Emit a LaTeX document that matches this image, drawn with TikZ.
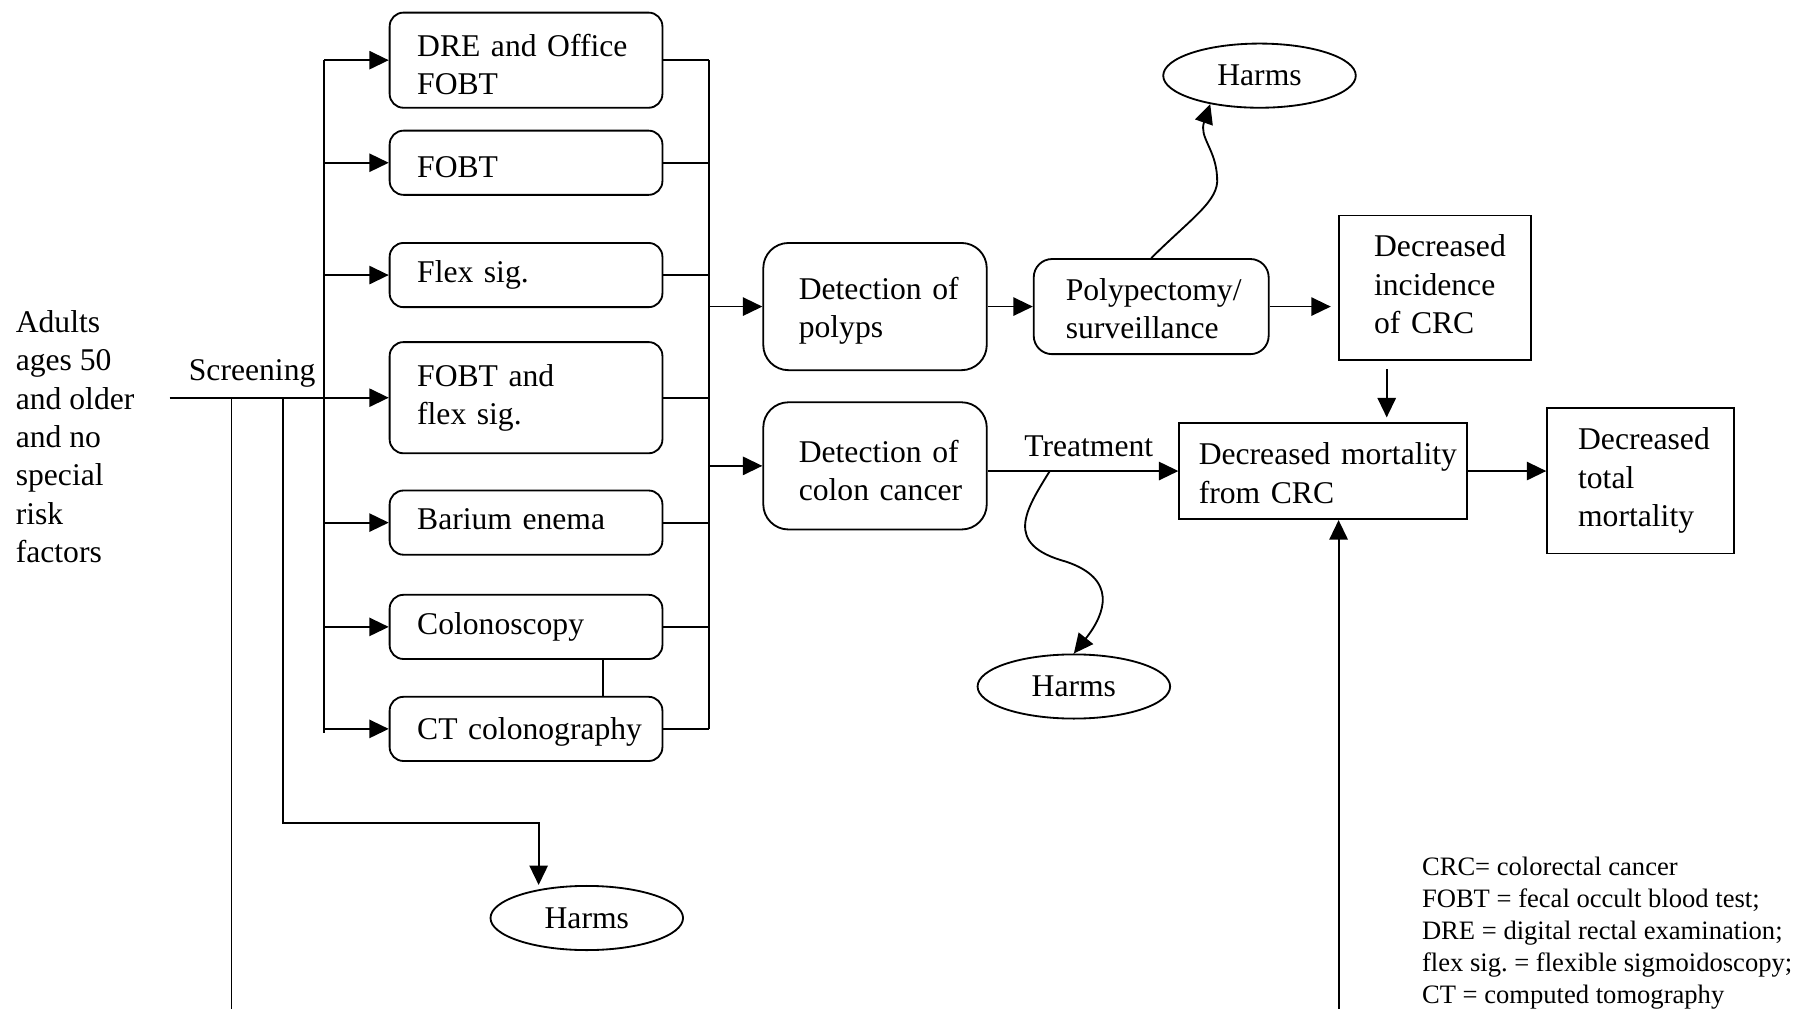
\documentclass[tikz,border=0pt]{standalone}
\usepackage{fontspec}
\setmainfont{Liberation Serif}
\usetikzlibrary{arrows.meta,shapes.geometric}
\hyphenpenalty=10000
\exhyphenpenalty=10000
\frenchspacing
\newcommand\myup[1]{\rule{0pt}{#1}}
\newcommand\mydn[1]{\rule[-#1]{0pt}{0pt}}
\begin{document}
\begin{tikzpicture}[x=0.5pt,y=-0.5pt,line width=0.8pt,
  every node/.style={font=\fontsize{13.8}{16.75}\selectfont},
  arr/.style={-{Triangle[length=8.5pt,width=8pt]}},
  tbox/.style={draw,rounded corners=6pt,align=left,inner ysep=0pt,inner xsep=12pt,text width=95pt,minimum height=28pt},
  dbox/.style={draw,rounded corners=11pt,align=left,inner ysep=0pt,inner xsep=15.5pt,text width=66.5pt,minimum height=55.5pt},
  sbox/.style={draw,align=left,inner ysep=0pt},
  harms/.style={draw,ellipse,minimum width=84pt,minimum height=28pt,inner sep=0pt}]
\useasboundingbox (0,0) rectangle (1568,880);

% left texts
\node[anchor=north west,align=left,inner sep=0pt] (adults) at (13,270) {Adults\\ages 50\\and older\\and no\\special\\risk\\factors};
\node (scrlbl) at (220,326) {Screening};

% screening tests
\node[tbox,minimum height=41.5pt] (dre) at (459,52.5) {\myup{13.5pt}DRE and Office\\FOBT};
\node[tbox] (fobt) at (459,142) {\myup{13.3pt}FOBT};
\node[tbox] (flex) at (459,240) {Flex sig.};
\node[tbox,minimum height=48.5pt] (fflex) at (459,347) {FOBT and\\flex sig.};
\node[tbox] (bar) at (459,456) {Barium enema\mydn{3pt}};
\node[tbox] (colo) at (459,547) {Colonoscopy};
\node[tbox] (ct) at (459,636) {\myup{12.5pt}CT~colonography};

% detection
\node[dbox] (detp) at (763.5,267.5) {\myup{13.5pt}Detection~of\\polyps};
\node[dbox] (detc) at (763.5,406.5) {\myup{13.5pt}Detection~of\\colon~cancer};

\node[draw,rounded corners=8pt,align=left,inner ysep=0pt,inner xsep=14pt,text width=74.5pt,minimum height=41.5pt] (pol) at (1004.5,267.5) {\myup{11.5pt}Polypectomy/\\surveillance};
\node[sbox,inner xsep=15.5pt,text width=53pt,minimum height=63pt] (inc) at (1252,251) {Decreased\\incidence\\of CRC\mydn{3pt}};
\node[sbox,inner xsep=8.5pt,text width=108.5pt,minimum height=42pt] (mort) at (1154.5,411) {\myup{11.5pt}Decreased~mortality\\from CRC};
\node[sbox,inner xsep=13.5pt,text width=54.5pt,minimum height=63.5pt] (tot) at (1431.5,419.5) {Decreased\\total\\mortality};

% harms
\node[harms] (h1) at (1099,66) {Harms};
\node[harms] (h2) at (937,599) {Harms};
\node[harms] (h3) at (512,801) {Harms};

% legend
\node[anchor=north west,align=left,inner sep=0pt,font=\fontsize{11.6}{14}\selectfont] (legend) at (1240,747)
 {CRC= colorectal cancer\\FOBT = fecal occult blood test;\\DRE = digital rectal examination;\\flex sig. = flexible sigmoidoscopy;\\CT = computed tomography};

% coordinates
\coordinate (tr) at (283,0);
\coordinate (cl) at (619,0);
\coordinate (s0) at (148,0);
\coordinate (cc) at (526,0);
\coordinate (l1) at (202,880);
\coordinate (l2) at (247,718);
\coordinate (l2b) at (470,718);
\coordinate (mb) at (1168,880);
\coordinate (incd) at (1210,322);
\coordinate (tb) at (916,411);

% trunk
\draw[arr] (s0 |- fflex.west) -- (fflex.west);
\draw (tr |- dre.west) -- ([yshift=-2pt]tr |- ct.west);
\foreach \n in {dre,fobt,flex,bar,colo,ct} \draw[arr] (tr |- \n.west) -- (\n.west);
\foreach \n in {dre,fobt,flex,fflex,bar,colo,ct} \draw (\n.east) -- (cl |- \n.east);
\draw (cl |- dre.east) -- (cl |- ct.east);
\draw (cc |- colo.south) -- (cc |- ct.north);
\draw[arr] (cl |- detp.west) -- (detp.west);
\draw[arr] (cl |- detc.west) -- (detc.west);

% down lines
\draw (l1 |- fflex.west) -- (l1);
\draw[arr] (l2 |- fflex.west) -- (l2) -- (l2b) -- (l2b |- h3.north);

% right part
\draw[arr] (detp.east) -- (pol.west);
\draw[arr,shorten >=3pt] (pol.east) -- (pol.east -| inc.west);
\draw[arr,shorten >=2pt] (incd) -- (incd |- mort.north);
\draw[arr] (detc.east |- mort.west) -- node[above=2.5pt,pos=0.53] (trt) {Treatment} (mort.west);
\draw[arr] (mort.east) -- (mort.east -| tot.west);
\draw[arr] (mb) -- (mb |- mort.south);

% curved harms arrows
\draw[arr] (pol.north) .. controls (1040,190) and (1064,175) .. (1062,155)
  .. controls (1061,130) and (1046,120) .. (h1.-150);
\draw[arr] (tb) .. controls (895,445) and (875,475) .. (930,490)
  .. controls (975,505) and (965,535) .. (h2.north);
\end{tikzpicture}
\end{document}
